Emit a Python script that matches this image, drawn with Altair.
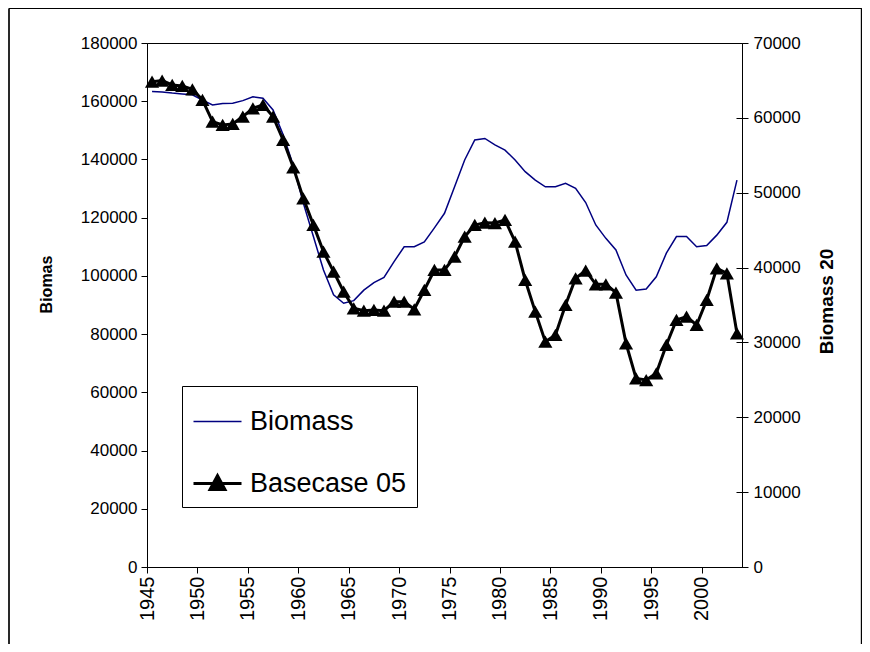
import altair as alt
import pandas as pd

years = list(range(1945, 2004))
biomass = [163300, 163200, 162800, 162500, 162200, 160400, 158700, 159200, 159300, 160200,
           161500, 161000, 157000, 148500, 138000, 125000, 113500, 102000, 93500, 90600,
           91500, 95100, 97700, 99500, 104900, 110000, 110000, 111700, 116500, 121500,
           130600, 139800, 146700, 147200, 145000, 143200, 139800, 135800, 132900, 130600,
           130600, 131800, 130100, 125200, 117500, 112900, 108900, 100300, 95100, 95500,
           99700, 107800, 113500, 113500, 110000, 110400, 114000, 118400, 132900]
basecase = [64840, 64970, 64400, 64260, 63820, 62400, 59500, 59050, 59190, 60170,
            61280, 61720, 60170, 57050, 53400, 49250, 45700, 42120, 39450, 36780,
            34560, 34240, 34340, 34240, 35450, 35450, 34430, 37010, 39680, 39680,
            41460, 44130, 45690, 46000, 45950, 46360, 43460, 38340, 34110, 30100,
            31000, 35000, 38570, 39600, 37770, 37770, 36650, 29880, 25200, 24980,
            25880, 29660, 33000, 33440, 32330, 35670, 39900, 39240, 31220]
series_names = ["Biomass", "Basecase 05"]
x_ticks = list(range(1945, 2001, 5))
left_ticks = list(range(0, 180001, 20000))
right_ticks = list(range(0, 70001, 10000))

FONT = "Liberation Sans"
W, H = 595, 524

df = pd.DataFrame({"year": years, "biomass": biomass, "basecase": basecase})
leg_df = pd.DataFrame({"series": series_names})

base = alt.Chart(df).transform_calculate(xpos="datum.year + 0.5")

xenc = alt.X("xpos:Q",
             scale=alt.Scale(domain=[1945, 2004], nice=False, zero=False),
             axis=alt.Axis(values=x_ticks, title=None, labelAngle=270, labelAlign="right",
                           labelBaseline="middle", format="d", labelPadding=3, tickSize=6,
                           labelFontSize=20, grid=False, labelFlush=False, labelOverlap=False))

bio = base.mark_line(color="#000080", strokeWidth=1.5).encode(
    x=xenc,
    y=alt.Y("biomass:Q", scale=alt.Scale(domain=[0, 180000], nice=False),
            axis=alt.Axis(values=left_ticks, orient="left", title="Biomas", format="d",
                          tickSize=6, labelPadding=4, labelFontSize=17,
                          titleFontSize=16, titleFontWeight="bold", titleAngle=270,
                          titleAlign="center", titleBaseline="middle",
                          titleX=-101, titleY=241, grid=False, labelFlush=False)),
)

base_line = base.mark_line(color="black", strokeWidth=3).encode(
    x=xenc,
    y=alt.Y("basecase:Q", scale=alt.Scale(domain=[0, 70000], nice=False),
            axis=alt.Axis(values=right_ticks, orient="right", title="Biomass 20", format="d",
                          tickSize=6, labelPadding=5, labelFontSize=17,
                          titleFontSize=19, titleFontWeight="bold", titleAngle=270,
                          titleAlign="center", titleBaseline="middle",
                          titleX=84, titleY=258, grid=False, labelFlush=False)),
)

base_pts = base.mark_point(shape="triangle-up", filled=True, color="black", size=200, opacity=1).encode(
    x=xenc,
    y=alt.Y("basecase:Q", scale=alt.Scale(domain=[0, 70000], nice=False),
            axis=alt.Axis(values=right_ticks, orient="left", offset=-W, labels=False,
                          domain=False, title=None, tickSize=6, grid=False)),
)

shape_line = "M-1,-0.03L1,-0.03L1,0.03L-1,0.03Z"
shape_tri = "M-1,0L1,0M-0.31,0.25L0,-0.33L0.31,0.25Z"

legend_layer = alt.Chart(leg_df).transform_filter("false").mark_point(opacity=1).encode(
    fill=alt.Fill("series:N", scale=alt.Scale(domain=series_names, range=["#000080", "black"]),
                  legend=alt.Legend(title=None, orient="none", legendX=35, legendY=343,
                                    strokeColor="black", fillColor="white", padding=10,
                                    labelFontSize=27, labelFont=FONT, symbolSize=2304,
                                    labelOffset=7, rowPadding=23, symbolStrokeWidth=3,
                                    symbolOpacity=1, labelLimit=400, cornerRadius=0,
                                    labelColor="black")),
    stroke=alt.Stroke("series:N", scale=alt.Scale(domain=series_names, range=["transparent", "black"])),
    shape=alt.Shape("series:N", scale=alt.Scale(domain=series_names, range=[shape_line, shape_tri])),
)

frame = alt.Chart(leg_df).mark_rule(color="black", strokeWidth=1.2)
top_rule = frame.encode(x=alt.value(-138), x2=alt.value(714.5), y=alt.value(-34.5))
left_rule = frame.encode(x=alt.value(-138), y=alt.value(-34.5), y2=alt.value(H + 80))
right_rule = frame.encode(x=alt.value(714.5), y=alt.value(-34.5), y2=alt.value(H + 80))

chart = alt.layer(bio, base_line, base_pts, legend_layer, top_rule, left_rule, right_rule).resolve_scale(
    y="independent"
).properties(
    width=W, height=H,
    padding={"left": 139, "top": 35, "right": 120, "bottom": 77},
    autosize=alt.AutoSizeParams(type="none"),
).configure(font=FONT).configure_view(
    stroke="black", strokeWidth=1
).configure_axis(
    domainColor="black", tickColor="black", labelColor="black", titleColor="black",
    labelFont=FONT, titleFont=FONT, domainWidth=1, tickWidth=1
)

chart.save("out.html", embed_options={"renderer": "svg", "actions": False})
